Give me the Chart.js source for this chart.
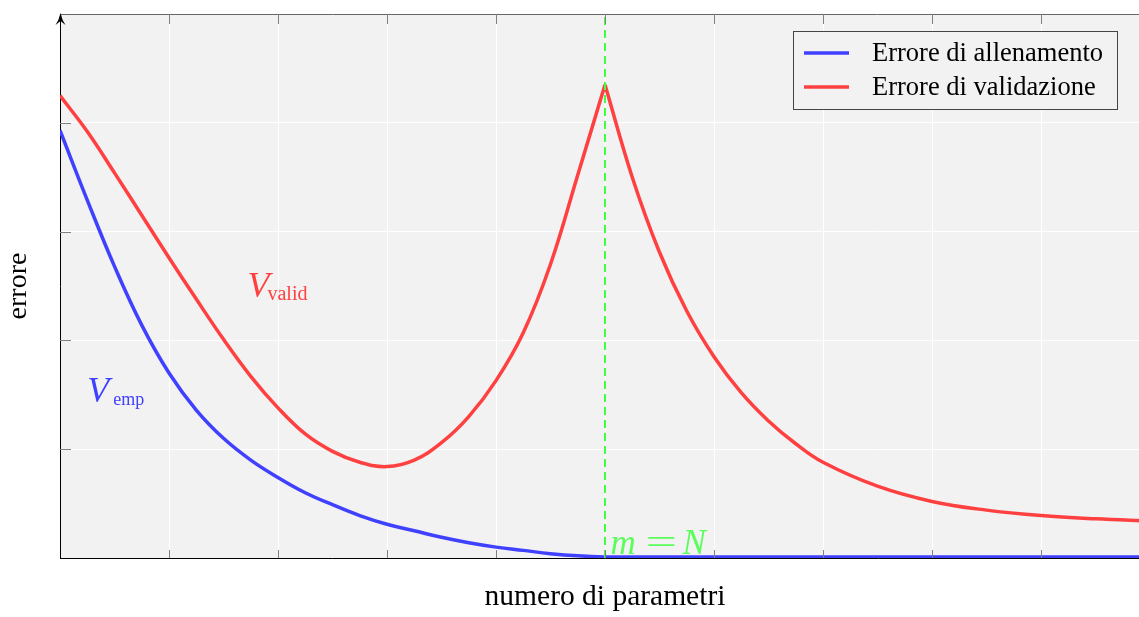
<!DOCTYPE html>
<html>
<head>
<meta charset="utf-8">
<script src="https://cdn.jsdelivr.net/npm/chart.js@4.4.0/dist/chart.umd.min.js"></script>
<style>
    html, body { margin: 0; padding: 0; background: #fff; overflow: hidden; }
    #frame { width: 1139px; height: 617px; overflow: hidden; position: relative; }
    /* the plot runs a little past the right edge, as in the original figure */
    #wrap { width: 1150px; height: 617px; position: relative; }
</style>
</head>
<body>
<div id="frame"><div id="wrap"><canvas id="errChart"></canvas></div></div>
<script>
// Data
const xValues  = [0, 0.25, 0.5, 0.75, 1, 1.25, 1.5, 1.75, 2, 2.25, 2.5, 2.75, 3, 3.25, 3.5, 3.75, 4, 4.25, 4.5, 4.75, 5,
                  5.25, 5.5, 5.75, 6, 6.25, 6.5, 6.75, 7, 7.5, 8, 8.5, 9, 9.5, 10];
const trainErr = [3.93, 3.29, 2.68, 2.14, 1.70, 1.36, 1.10, 0.90, 0.74, 0.60, 0.49, 0.39, 0.31, 0.25, 0.19, 0.14, 0.10, 0.07, 0.04, 0.02, 0.01,
                  0.01, 0.01, 0.01, 0.01, 0.01, 0.01, 0.01, 0.01, 0.01, 0.01, 0.01, 0.01, 0.01, 0.01];
const validErr = [4.25, 3.92, 3.54, 3.15, 2.76, 2.38, 2.01, 1.67, 1.38, 1.14, 0.98, 0.88, 0.84, 0.90, 1.06, 1.30, 1.63, 2.07, 2.70, 3.52, 4.35,
                  3.50, 2.81, 2.27, 1.85, 1.52, 1.26, 1.05, 0.88, 0.66, 0.52, 0.44, 0.39, 0.36, 0.34];
const peakX    = 5;            // m = N
const markerY  = [0, 5];
const xGridValues = [0, 1, 2, 3, 4, 5, 6, 7, 8, 9, 10];
const yGridValues = [0, 1, 2, 3, 4, 5];
const seriesLabels = ['Errore di allenamento', 'Errore di validazione'];

const BLUE = 'rgb(64,64,255)';
const RED = 'rgb(255,64,64)';
const GREEN = 'rgb(64,255,64)';
const SERIF = "'Liberation Serif', 'DejaVu Serif', serif";

function toPoints(xs, ys) {
    return xs.map((x, i) => ({ x: x, y: ys[i] }));
}

// the validation curve has a cusp at m = N, so it is drawn as two pieces
const peakIdx = xValues.indexOf(peakX);
const validLeft = toPoints(xValues.slice(0, peakIdx + 1), validErr.slice(0, peakIdx + 1));
const validRight = toPoints(xValues.slice(peakIdx), validErr.slice(peakIdx));

// background, ticks, arrow, top frame, labels and legend box
const decorPlugin = {
    id: 'decor',
    beforeDraw(chart) {
        const a = chart.chartArea;
        const ctx = chart.ctx;
        ctx.save();
        ctx.fillStyle = '#f2f2f2';
        ctx.fillRect(a.left, a.top, a.right - a.left, a.bottom - a.top);
        ctx.restore();
    },
    afterDatasetsDraw(chart) {
        const ctx = chart.ctx;
        const xs = chart.scales.x, ys = chart.scales.y;
        ctx.save();
        ctx.textBaseline = 'alphabetic';
        ctx.textAlign = 'left';

        // V_valid
        let px = xs.getPixelForValue(1.72), py = ys.getPixelForValue(2.40);
        ctx.fillStyle = RED;
        ctx.font = 'italic 36px ' + SERIF;
        ctx.fillText('V', px, py);
        ctx.font = '20px ' + SERIF;
        ctx.fillText('valid', px + 20, py + 3);

        // V_emp
        px = xs.getPixelForValue(0.25); py = ys.getPixelForValue(1.43);
        ctx.fillStyle = BLUE;
        ctx.font = 'italic 36px ' + SERIF;
        ctx.fillText('V', px, py);
        ctx.font = '18px ' + SERIF;
        ctx.fillText('emp', px + 26, py + 3);

        // m = N
        px = xs.getPixelForValue(5.05); py = ys.getPixelForValue(0.04);
        ctx.fillStyle = 'rgba(64,255,64,0.85)';
        ctx.font = 'italic 35px ' + SERIF;
        ctx.fillText('m', px, py);
        ctx.save();
        ctx.translate(px + 35, py);
        ctx.scale(1.6, 1);
        ctx.font = '35px ' + SERIF;
        ctx.fillText('=', 0, 0);
        ctx.restore();
        ctx.font = 'italic 35px ' + SERIF;
        ctx.fillText('N', px + 72, py);
        ctx.restore();
    },
    afterDraw(chart) {
        const ctx = chart.ctx;
        const a = chart.chartArea;
        const xs = chart.scales.x, ys = chart.scales.y;
        ctx.save();

        // top frame
        ctx.strokeStyle = '#666';
        ctx.lineWidth = 1;
        ctx.beginPath();
        ctx.moveTo(a.left, Math.round(a.top) + 0.5);
        ctx.lineTo(a.right, Math.round(a.top) + 0.5);
        ctx.stroke();

        // inward ticks
        ctx.strokeStyle = '#808080';
        ctx.beginPath();
        xGridValues.forEach(v => {
            if (v === 0) return;
            const p = Math.round(xs.getPixelForValue(v)) + 0.5;
            ctx.moveTo(p, a.top); ctx.lineTo(p, a.top + 10);
            ctx.moveTo(p, a.bottom); ctx.lineTo(p, a.bottom - 8);
        });
        yGridValues.forEach(v => {
            if (v === 0 || v === 5) return;
            const p = Math.round(ys.getPixelForValue(v)) + 0.5;
            ctx.moveTo(a.left, p); ctx.lineTo(a.left + 11, p);
            ctx.moveTo(a.right, p); ctx.lineTo(a.right - 11, p);
        });
        ctx.stroke();

        // arrow head on the y axis
        const ax = Math.round(a.left) + 0.5, ay = a.top - 1;
        ctx.fillStyle = '#000';
        ctx.beginPath();
        ctx.moveTo(ax, ay);
        ctx.quadraticCurveTo(ax + 1.5, ay + 7, ax + 5, ay + 12);
        ctx.lineTo(ax, ay + 8);
        ctx.lineTo(ax - 5, ay + 12);
        ctx.quadraticCurveTo(ax - 1.5, ay + 7, ax, ay);
        ctx.fill();

        // legend box, top right inside the plot
        const items = chart.data.datasets.filter(d => d.inLegend);
        const bx = a.right - 357, by = a.top + 17, bw = 324, bh = 78;
        ctx.fillStyle = '#f2f2f2';
        ctx.fillRect(bx, by, bw, bh);
        ctx.strokeStyle = '#444';
        ctx.lineWidth = 1;
        ctx.strokeRect(Math.round(bx) + 0.5, Math.round(by) + 0.5, bw, bh);
        ctx.font = '26.5px ' + SERIF;
        ctx.textBaseline = 'middle';
        ctx.textAlign = 'left';
        items.forEach((d, i) => {
            const rowY = by + 22 + i * 34;
            ctx.strokeStyle = d.borderColor;
            ctx.lineWidth = 3.5;
            ctx.beginPath();
            ctx.moveTo(bx + 11, rowY);
            ctx.lineTo(bx + 56, rowY);
            ctx.stroke();
            ctx.fillStyle = '#000';
            ctx.fillText(d.label, bx + 79, rowY + 1);
        });
        ctx.restore();
    }
};

let errChart = null;

document.addEventListener('DOMContentLoaded', function() {
    const ctx = document.getElementById('errChart').getContext('2d');

    errChart = new Chart(ctx, {
        type: 'line',
        data: {
            datasets: [{
                label: 'm = N',
                inLegend: false,
                data: markerY.map(y => ({ x: peakX, y: y })),
                borderColor: GREEN,
                borderWidth: 2,
                borderDash: [8, 5],
                pointRadius: 0,
                tension: 0,
                order: 0
            }, {
                label: seriesLabels[0],
                inLegend: true,
                data: toPoints(xValues, trainErr),
                borderColor: BLUE,
                borderWidth: 3.5,
                pointRadius: 0,
                tension: 0.4,
                order: 1
            }, {
                label: seriesLabels[1],
                inLegend: true,
                data: validLeft,
                borderColor: RED,
                borderWidth: 3.5,
                pointRadius: 0,
                tension: 0.4,
                order: 2
            }, {
                label: seriesLabels[1],
                inLegend: false,
                data: validRight,
                borderColor: RED,
                borderWidth: 3.5,
                pointRadius: 0,
                tension: 0.4,
                order: 2
            }]
        },
        options: {
            responsive: true,
            maintainAspectRatio: false,
            animation: false,
            layout: {
                padding: { top: 14, right: 0, left: 0, bottom: 0 }
            },
            scales: {
                x: {
                    type: 'linear',
                    min: 0,
                    max: 10,
                    afterBuildTicks: s => { s.ticks = xGridValues.map(v => ({ value: v })); },
                    afterFit: s => { s.height = 59; },
                    grid: { color: '#ffffff', lineWidth: 1, drawTicks: false },
                    border: { display: true, color: '#000', width: 1 },
                    ticks: { display: false },
                    title: {
                        display: true,
                        text: 'numero di parametri',
                        color: '#000',
                        font: { family: SERIF, size: 29.5 },
                        padding: { top: 0, bottom: 2 }
                    }
                },
                y: {
                    min: 0,
                    max: 5,
                    afterBuildTicks: s => { s.ticks = yGridValues.map(v => ({ value: v })); },
                    afterFit: s => { s.width = 60; },
                    grid: { color: '#ffffff', lineWidth: 1, drawTicks: false },
                    border: { display: true, color: '#000', width: 1 },
                    ticks: { display: false },
                    title: {
                        display: true,
                        text: 'errore',
                        color: '#000',
                        font: { family: SERIF, size: 28 },
                        padding: { top: 2, bottom: 0 }
                    }
                }
            },
            plugins: {
                legend: { display: false },
                tooltip: { enabled: false }
            }
        },
        plugins: [decorPlugin]
    });
});
</script>
</body>
</html>
